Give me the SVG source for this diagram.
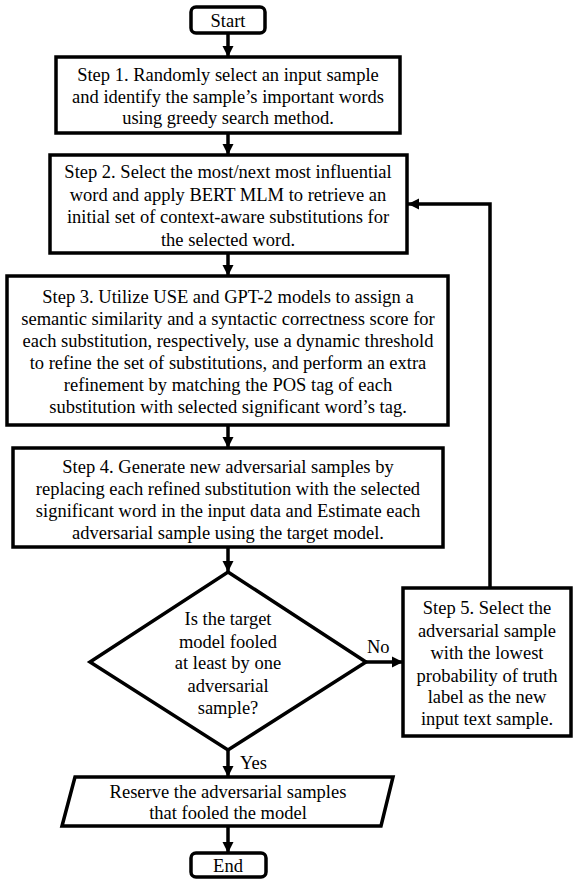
<svg xmlns="http://www.w3.org/2000/svg" width="573" height="879" viewBox="0 0 573 879">
<defs>
<style>
.b{fill:#fff;stroke:#000;stroke-width:3.5}
text{font-family:'Liberation Serif','Times New Roman',Times,serif;font-size:18.5px;fill:#000}
.t{text-anchor:middle}
.c{fill:none;stroke:#000;stroke-width:3.5}
</style>
<marker id="ah" viewBox="0 0 10 10" refX="10" refY="5" markerWidth="3.2" markerHeight="3.2" orient="auto" markerUnits="strokeWidth">
<path d="M0,0 L10,5 L0,10 z" fill="#000"/>
</marker>
</defs>
<rect width="573" height="879" fill="#fff"/>
<g id="connectors">
<line class="c" x1="228" y1="34" x2="228" y2="57" marker-end="url(#ah)"/>
<line class="c" x1="228" y1="134" x2="228" y2="155" marker-end="url(#ah)"/>
<line class="c" x1="228" y1="254" x2="228" y2="276" marker-end="url(#ah)"/>
<line class="c" x1="228" y1="426" x2="228" y2="448" marker-end="url(#ah)"/>
<line class="c" x1="228" y1="548" x2="228" y2="572" marker-end="url(#ah)"/>
<line class="c" x1="366" y1="662" x2="403" y2="662" marker-end="url(#ah)"/>
<polyline class="c" points="490,588 490,204 408,204" marker-end="url(#ah)"/>
<line class="c" x1="228" y1="750" x2="228" y2="777" marker-end="url(#ah)"/>
<line class="c" x1="228" y1="827" x2="228" y2="853" marker-end="url(#ah)"/>
<text x="367" y="653">No</text>
<text x="240" y="769">Yes</text>
</g>
<g id="start">
<rect class="b" x="191" y="7" width="74" height="26" rx="5"/>
<text class="t" x="228" y="27">Start</text>
</g>
<g id="step1">
<rect class="b" x="56" y="57" width="344" height="76"/>
<text class="t" x="228" y="81">Step 1. Randomly select an input sample</text>
<text class="t" x="228" y="103">and identify the sample’s important words</text>
<text class="t" x="228" y="124">using greedy search method.</text>
</g>
<g id="step2">
<rect class="b" x="50" y="155" width="357" height="98"/>
<text class="t" x="228" y="178">Step 2. Select the most/next most influential</text>
<text class="t" x="228" y="201">word and apply BERT MLM to retrieve an</text>
<text class="t" x="228" y="223">initial set of context-aware substitutions for</text>
<text class="t" x="228" y="246">the selected word.</text>
</g>
<g id="step3">
<rect class="b" x="7" y="276" width="441" height="149"/>
<text class="t" x="228" y="303">Step 3. Utilize USE and GPT-2 models to assign a</text>
<text class="t" x="228" y="325">semantic similarity and a syntactic correctness score for</text>
<text class="t" x="228" y="347">each substitution, respectively, use a dynamic threshold</text>
<text class="t" x="228" y="369">to refine the set of substitutions, and perform an extra</text>
<text class="t" x="228" y="391">refinement by matching the POS tag of each</text>
<text class="t" x="228" y="413">substitution with selected significant word’s tag.</text>
</g>
<g id="step4">
<rect class="b" x="13" y="448" width="430" height="99"/>
<text class="t" x="228" y="473">Step 4. Generate new adversarial samples by</text>
<text class="t" x="228" y="495">replacing each refined substitution with the selected</text>
<text class="t" x="228" y="517">significant word in the input data and Estimate each</text>
<text class="t" x="228" y="539">adversarial sample using the target model.</text>
</g>
<g id="decision">
<polygon class="b" points="228,572 366,662 228,750 90,662"/>
<text class="t" x="228" y="625">Is the target</text>
<text class="t" x="228" y="648">model fooled</text>
<text class="t" x="228" y="669">at least by one</text>
<text class="t" x="228" y="692">adversarial</text>
<text class="t" x="228" y="714">sample?</text>
</g>
<g id="step5">
<rect class="b" x="403" y="588" width="168" height="148"/>
<text class="t" x="487" y="614">Step 5. Select the</text>
<text class="t" x="487" y="637">adversarial sample</text>
<text class="t" x="487" y="659">with the lowest</text>
<text class="t" x="487" y="682">probability of truth</text>
<text class="t" x="487" y="703">label as the new</text>
<text class="t" x="487" y="725">input text sample.</text>
</g>
<g id="reserve">
<polygon class="b" points="75,777 393,777 381,826 62,826"/>
<text class="t" x="228" y="798">Reserve the adversarial samples</text>
<text class="t" x="228" y="819">that fooled the model</text>
</g>
<g id="end">
<rect class="b" x="191" y="853" width="75" height="24" rx="5"/>
<text class="t" x="228" y="872">End</text>
</g>
</svg>
